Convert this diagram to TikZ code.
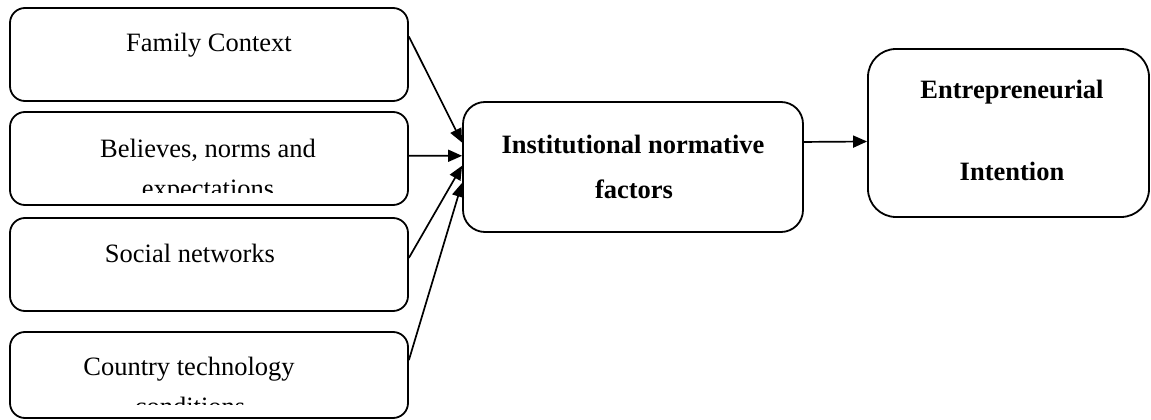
\documentclass[tikz,border=0pt]{standalone}
\usepackage{fontspec}
\setmainfont{Liberation Serif}
\usetikzlibrary{arrows.meta,calc}
\begin{document}
\begin{tikzpicture}[x=1pt,y=-1pt,
  box/.style={draw,line width=1.8pt,rounded corners=15pt,inner sep=0pt},
  lbl/.style={anchor=base,inner sep=0pt,font=\fontsize{26.5}{30}\selectfont},
  blbl/.style={anchor=base,inner sep=0pt,font=\fontsize{26.5}{30}\selectfont\bfseries},
  arr/.style={line width=1.7pt,-{Triangle[length=14pt,width=12pt]}}]
\useasboundingbox (0,0) rectangle (1151,420);
% left boxes
\node[box,minimum width=398pt,minimum height=93pt] (b1) at (209,54.5) {};
\node[box,minimum width=398pt,minimum height=93pt] (b2) at (209,158.5) {};
\node[box,minimum width=398pt,minimum height=93pt] (b3) at (209,264.5) {};
\node[box,minimum width=398pt,minimum height=86pt] (b4) at (209,375) {};
% middle and right boxes
\node[box,rounded corners=22pt,minimum width=340pt,minimum height=130pt] (inst) at (633,167) {};
\node[box,rounded corners=28pt,minimum width=281pt,minimum height=168pt] (ent) at (1008.5,133) {};
% texts
\node[lbl] (t1) at (209,52) {Family Context};
\node[lbl] (t2a) at (208,157) {Believes, norms and};
\begin{scope}
  \clip (10,150) rectangle (408,192);
  \node[lbl] (t2b) at (208,197) {expectations};
\end{scope}
\node[lbl] (t3) at (190,262) {Social networks};
\node[lbl] (t4a) at (189,375) {Country technology};
\begin{scope}
  \clip (10,380) rectangle (408,404);
  \node[lbl] (t4b) at (190,415) {conditions};
\end{scope}
\node[blbl] (ti1) at (633,153) {Institutional normative};
\node[blbl] (ti2) at (634,198) {factors};
\node[blbl] (te1) at (1012,98) {Entrepreneurial};
\node[blbl] (te2) at (1012,180) {Intention};
% connectors
\draw[arr] ($(b1.north east)!0.31!(b1.south east)$) -- ($(inst.north west)!0.315!(inst.south west)$);
\draw[arr] ($(b2.north east)!0.47!(b2.south east)$) -- ($(inst.north west)!0.415!(inst.south west)$);
\draw[arr] ($(b3.north east)!0.43!(b3.south east)$) -- ($(inst.north west)!0.49!(inst.south west)$);
\draw[arr] ($(b4.north east)!0.33!(b4.south east)$) -- ($(inst.north west)!0.62!(inst.south west)$);
\draw[arr] ($(inst.north east)!0.31!(inst.south east)$) -- ($(ent.north west)!0.55!(ent.south west)$);
\end{tikzpicture}
\end{document}
